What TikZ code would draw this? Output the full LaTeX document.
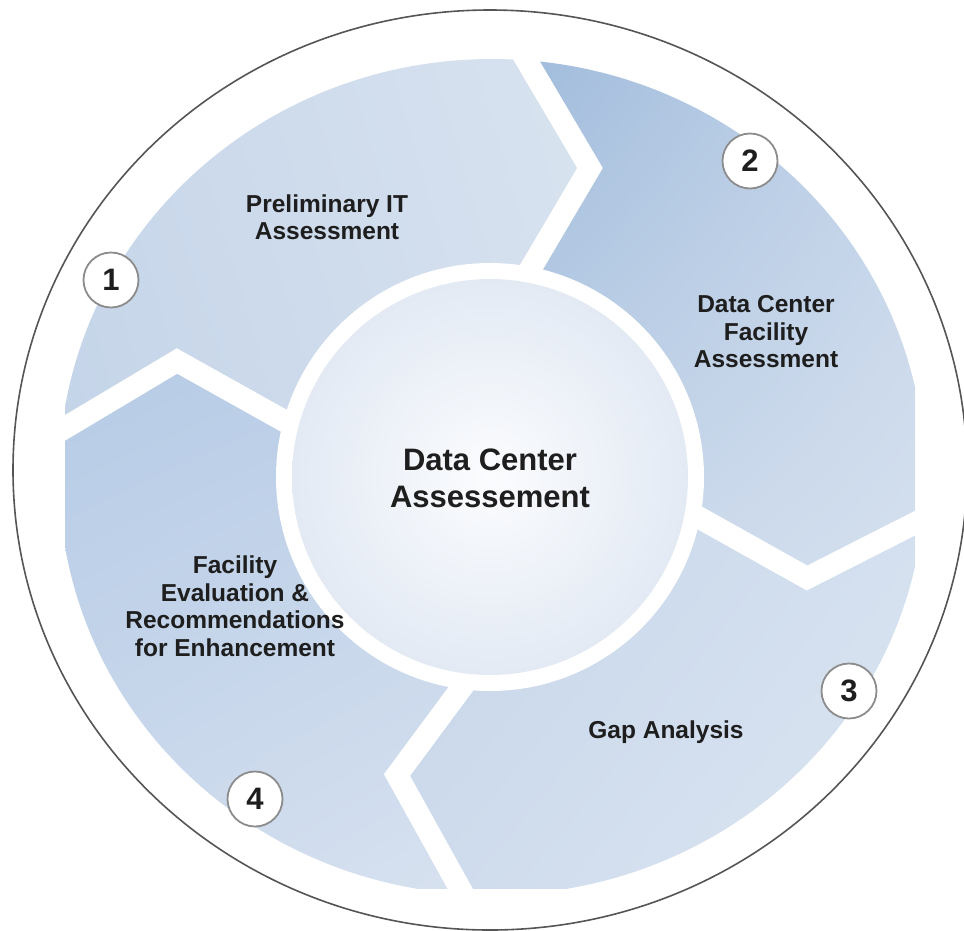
\documentclass[tikz,border=0pt]{standalone}
\usepackage{fontspec}
\setmainfont{Liberation Sans}
\usetikzlibrary{shadings}
\definecolor{txt}{HTML}{1E1E1E}
\definecolor{rimgray}{HTML}{555555}
\definecolor{numgray}{HTML}{8C8C8C}
\definecolor{sAul}{RGB}{200,215,234}\definecolor{sAur}{RGB}{218,228,240}\definecolor{sAll}{RGB}{196,212,232}\definecolor{sAlr}{RGB}{214,225,239}
\definecolor{sBul}{RGB}{158,186,219}\definecolor{sBur}{RGB}{196,212,233}\definecolor{sBll}{RGB}{200,215,234}\definecolor{sBlr}{RGB}{214,225,239}
\definecolor{sCul}{RGB}{196,212,233}\definecolor{sCur}{RGB}{212,224,239}\definecolor{sCll}{RGB}{206,219,236}\definecolor{sClr}{RGB}{220,230,242}
\definecolor{sDul}{RGB}{182,203,230}\definecolor{sDur}{RGB}{190,208,232}\definecolor{sDll}{RGB}{204,218,236}\definecolor{sDlr}{RGB}{216,226,240}
\definecolor{discin}{RGB}{251,252,254}\definecolor{discout}{RGB}{227,234,244}
\begin{document}
\begin{tikzpicture}[x=1pt,y=-1pt,
  gapline/.style={white, line width=22pt, line join=miter, miter limit=20},
  numc/.style={circle, draw=numgray, line width=1.8pt, fill=white, minimum size=55pt, inner sep=0pt, text=txt, font=\fontsize{31}{31}\selectfont\bfseries},
  lbl/.style={align=center, text=txt, font=\fontsize{24.5}{27.5}\selectfont\bfseries},
  ctr/.style={align=center, text=txt, font=\fontsize{31}{37}\selectfont\bfseries}]
\useasboundingbox (0,0) rectangle (964,930);
% gap geometry
\coordinate (C) at (490,477);
\coordinate (Ai) at (518,290); \coordinate (Aa) at (590,168); \coordinate (Ao) at (518,46);
\coordinate (Bi) at (682,508); \coordinate (Ba) at (807,578); \coordinate (Bo) at (931,515);
\coordinate (Ci) at (477,667); \coordinate (Ca) at (397,775); \coordinate (Co) at (467,901);
\coordinate (Di) at (304,432); \coordinate (Da) at (177,361); \coordinate (Do) at (48,438);
% ring segments
\begin{scope}
  \clip (492,477) ellipse [x radius=433, y radius=418];
  \clip (65,0) rectangle (915,888);
  \begin{scope}
    \clip (C) -- (Di) -- (Da) -- (Do) -- (-300,460) -- (-300,-300) -- (518,-300) -- (Ao) -- (Aa) -- (Ai) -- cycle;
    \shade[upper left=sAul, upper right=sAur, lower left=sAll, lower right=sAlr] (60,40) rectangle (620,480);
  \end{scope}
  \begin{scope}
    \clip (C) -- (Ai) -- (Aa) -- (Ao) -- (518,-300) -- (1300,-300) -- (1300,515) -- (Bo) -- (Ba) -- (Bi) -- cycle;
    \shade[upper left=sBul, upper right=sBur, lower left=sBll, lower right=sBlr] (500,50) rectangle (930,600);
  \end{scope}
  \begin{scope}
    \clip (C) -- (Bi) -- (Ba) -- (Bo) -- (1300,515) -- (1300,1300) -- (467,1300) -- (Co) -- (Ca) -- (Ci) -- cycle;
    \shade[upper left=sCul, upper right=sCur, lower left=sCll, lower right=sClr] (380,500) rectangle (930,900);
  \end{scope}
  \begin{scope}
    \clip (C) -- (Ci) -- (Ca) -- (Co) -- (467,1300) -- (-300,1300) -- (-300,460) -- (Do) -- (Da) -- (Di) -- cycle;
    \shade[upper left=sDul, upper right=sDur, lower left=sDll, lower right=sDlr] (60,360) rectangle (480,900);
  \end{scope}
\end{scope}
% white chevron gaps
\draw[gapline] (Ai) -- (Aa) -- (Ao);
\draw[gapline] (Bi) -- (Ba) -- (Bo);
\draw[gapline] (Ci) -- (Ca) -- (Co);
\draw[gapline] (Di) -- (Da) -- (Do);
% center disc
\fill[white] (C) circle (214);
\shade[inner color=discin, outer color=discout] (C) circle (198);
% outer rim
\draw[rimgray, line width=1.6pt] (490,470) ellipse [x radius=477, y radius=460];
% numbers
\node[numc] (n1) at (111,280) {1};
\node[numc] (n2) at (750,161) {2};
\node[numc] (n3) at (849,691) {3};
\node[numc] (n4) at (255,799) {4};
% labels
\node[ctr] (center) at (490,478) {Data Center\\Assessement};
\node[lbl] (s1) at (327,217) {Preliminary IT\\Assessment};
\node[lbl] (s2) at (766,332) {Data Center\\Facility\\Assessment};
\node[lbl] (s3) at (666,732) {Gap Analysis};
\node[lbl] (s4) at (235,606) {Facility\\Evaluation \&\\Recommendations\\for Enhancement};
\end{tikzpicture}
\end{document}
